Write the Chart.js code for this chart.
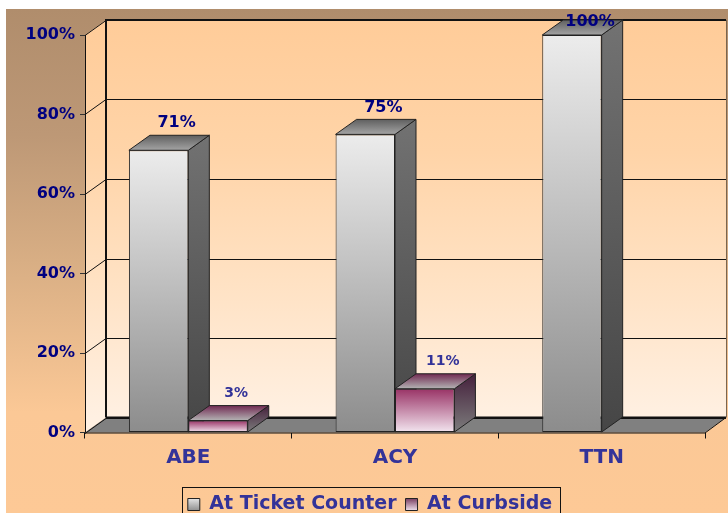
<!DOCTYPE html>
<html>
<head>
<meta charset="utf-8">
<style>html,body{margin:0;padding:0;background:#fff}canvas{display:block}</style>
<script src="https://cdn.jsdelivr.net/npm/chart.js@4"></script>
</head>
<body>
<div style="width:728px;height:513px"><canvas id="c" width="728" height="513"></canvas></div>
<script>
const categories = ['ABE', 'ACY', 'TTN'];
const ticketCounter = [71, 75, 100];
const curbside = [3, 11, null];
const yTicks = [0, 20, 40, 60, 80, 100];
const seriesNames = ['At Ticket Counter', 'At Curbside'];

const FONT = '"DejaVu Sans", Verdana, sans-serif';
const DX = 21, DY = 15;
const faces = [
  {front:['#ececec','#8c8c8c'], side:['#727272','#464646'], top:['#5f5f5f','#a4a4a4'], label:'#000080', labelSize:16},
  {front:['#993366','#f3e6f0'], side:['#45203c','#7c7c7c'], top:['#702a52','#b4b4b4'], label:'#333399', labelSize:14}
];

function vgrad(ctx, y0, y1, stops){
  const g = ctx.createLinearGradient(0, y0, 0, y1);
  stops.forEach((c,i)=>g.addColorStop(i/(stops.length-1), c));
  return g;
}
function poly(ctx, pts, fill, stroke, lw){
  ctx.beginPath();
  pts.forEach((p,i)=> i ? ctx.lineTo(p[0],p[1]) : ctx.moveTo(p[0],p[1]));
  ctx.closePath();
  if(fill){ctx.fillStyle=fill;ctx.fill();}
  if(stroke){ctx.strokeStyle=stroke;ctx.lineWidth=lw||1;ctx.stroke();}
}
function frontFill(i){
  return function(c){
    const chart=c.chart, y=chart.scales.y;
    if(!chart.chartArea || c.parsed==null || c.parsed.y==null) return faces[i].front[0];
    return vgrad(chart.ctx, y.getPixelForValue(c.parsed.y), y.getPixelForValue(0), faces[i].front);
  };
}

const scene = {
  id:'scene',
  beforeDraw(chart){
    const ctx=chart.ctx, a=chart.chartArea, ys=chart.scales.y;
    ctx.save();
    const bg=ctx.createLinearGradient(0,9,0,513);
    bg.addColorStop(0,'#b08d6c'); bg.addColorStop(0.25,'#bd9876');bg.addColorStop(0.5,'#d8ae84');bg.addColorStop(0.8,'#fbc896');bg.addColorStop(1,'#fdc996');
    ctx.fillStyle=bg; ctx.fillRect(6,9,722,504);
    const wall=vgrad(ctx,a.top-DY,a.bottom-DY,['#ffcc99','#ffd4a8','#ffe2c4','#fff0e2']);
    poly(ctx,[[a.left+DX,a.top-DY],[a.right+DX,a.top-DY],[a.right+DX,a.bottom-DY],[a.left+DX,a.bottom-DY]],wall);
    poly(ctx,[[a.left,a.top],[a.left+DX,a.top-DY],[a.left+DX,a.bottom-DY],[a.left,a.bottom]],wall);
    poly(ctx,[[a.left,a.bottom],[a.left+DX,a.bottom-DY],[a.right+DX,a.bottom-DY],[a.right,a.bottom]],'#808080');
    ctx.strokeStyle='#111'; ctx.lineWidth=1;
    yTicks.forEach(v=>{
      const p=Math.round(ys.getPixelForValue(v))+0.5;
      ctx.beginPath(); ctx.moveTo(a.left,p); ctx.lineTo(a.left+DX,p-DY); ctx.lineTo(a.right+DX,p-DY); ctx.stroke();
    });
    ctx.lineWidth=2;
    ctx.beginPath(); ctx.moveTo(a.left+DX,a.bottom-DY); ctx.lineTo(a.left+DX,a.top-DY); ctx.lineTo(a.right+DX,a.top-DY); ctx.stroke();
    ctx.beginPath(); ctx.moveTo(a.left+DX,a.bottom-DY); ctx.lineTo(a.right+DX,a.bottom-DY); ctx.stroke();
    ctx.lineWidth=1;
    ctx.strokeStyle='#7a6650';
    ctx.beginPath(); ctx.moveTo(a.right+DX+0.5,a.top-DY); ctx.lineTo(a.right+DX+0.5,a.bottom-DY); ctx.stroke();
    ctx.strokeStyle='#111';
    ctx.beginPath(); ctx.moveTo(a.left+0.5,a.top); ctx.lineTo(a.left+0.5,a.bottom); ctx.stroke();
    ctx.beginPath(); ctx.moveTo(a.left,a.bottom+0.5); ctx.lineTo(a.right,a.bottom+0.5); ctx.lineTo(a.right+DX,a.bottom-DY); ctx.stroke();
    ctx.restore();
  },
  beforeDatasetsDraw(chart){
    const ctx=chart.ctx;
    ctx.save();
    chart.data.labels.forEach((_,idx)=>{
      chart.data.datasets.forEach((ds,i)=>{
        if(ds.data[idx]==null) return;
        const b=chart.getDatasetMeta(i).data[idx];
        const L=b.x-b.width/2,R=b.x+b.width/2,T=b.y,B=b.base,f=faces[i];
        poly(ctx,[[R,T],[R+DX,T-DY],[R+DX,B-DY],[R,B]],vgrad(ctx,T-DY,B,f.side),'#222',1);
        poly(ctx,[[L,T],[L+DX,T-DY],[R+DX,T-DY],[R,T]],vgrad(ctx,T-DY,T,f.top),'#222',1);
      });
    });
    ctx.restore();
  },
  afterDatasetsDraw(chart){
    const ctx=chart.ctx;
    ctx.save();
    ctx.textAlign='center'; ctx.textBaseline='middle';
    chart.data.datasets.forEach((ds,i)=>{
      ds.data.forEach((v,idx)=>{
        if(v==null) return;
        const b=chart.getDatasetMeta(i).data[idx];
        ctx.font='bold '+faces[i].labelSize+'px '+FONT;
        ctx.fillStyle=faces[i].label;
        ctx.fillText(v+'%', b.x+18, Math.max(22, b.y-27));
      });
    });
    ctx.restore();
  },
  afterLayout(chart){
    const l=chart.legend;
    if(l){ l.left=6; l.right=734; l.top+=11; l.bottom+=11; }
  },
  afterDraw(chart){
    const ctx=chart.ctx;
    ctx.save();
    ctx.strokeStyle='#111'; ctx.lineWidth=1;
    ctx.strokeRect(182.5,487.5,378,40);
    ctx.restore();
  }
};

new Chart(document.getElementById('c'),{
  type:'bar',
  plugins:[scene],
  data:{
    labels:categories,
    datasets:[
      {label:seriesNames[0],data:ticketCounter,backgroundColor:frontFill(0),borderColor:'#222',borderWidth:1,borderSkipped:false},
      {label:seriesNames[1],data:curbside,backgroundColor:frontFill(1),borderColor:'#222',borderWidth:1,borderSkipped:false}
    ]
  },
  options:{
    responsive:false,
    animation:false,
    layout:{padding:{left:6,top:35,right:23,bottom:0}},
    categoryPercentage:0.575,
    barPercentage:1,
    plugins:{
      tooltip:{enabled:false},
      title:{display:false},
      legend:{
        position:'bottom',
        labels:{
          color:'#333399',
          font:{family:FONT,size:19,weight:'bold'},
          boxWidth:12,boxHeight:12,padding:9,
          generateLabels(chart){
            return chart.data.datasets.map((ds,i)=>{
              const g=vgrad(chart.ctx,497,511,i?['#6b2a50','#f3e6f0']:['#eeeeee','#8c8c8c']);
              return {text:ds.label,fillStyle:g,strokeStyle:'#222',lineWidth:1,datasetIndex:i,fontColor:'#333399'};
            });
          }
        }
      }
    },
    scales:{
      x:{
        afterFit(s){s.height=42.5;},
        border:{display:false},
        grid:{drawOnChartArea:false,drawTicks:true,tickLength:6,color:'#111',offset:true},
        ticks:{color:'#333399',font:{family:FONT,size:20,weight:'bold'},padding:7,maxRotation:0}
      },
      y:{
        min:0,max:100,
        afterFit(s){s.width=79;},
        border:{display:false},
        afterBuildTicks(s){s.ticks=yTicks.map(v=>({value:v}));},
        grid:{drawOnChartArea:false,tickLength:5,color:'#333'},
        ticks:{color:'#000080',font:{family:FONT,size:16,weight:'bold'},padding:5,callback:v=>v+'%'}
      }
    }
  }
});
</script>
</body>
</html>
